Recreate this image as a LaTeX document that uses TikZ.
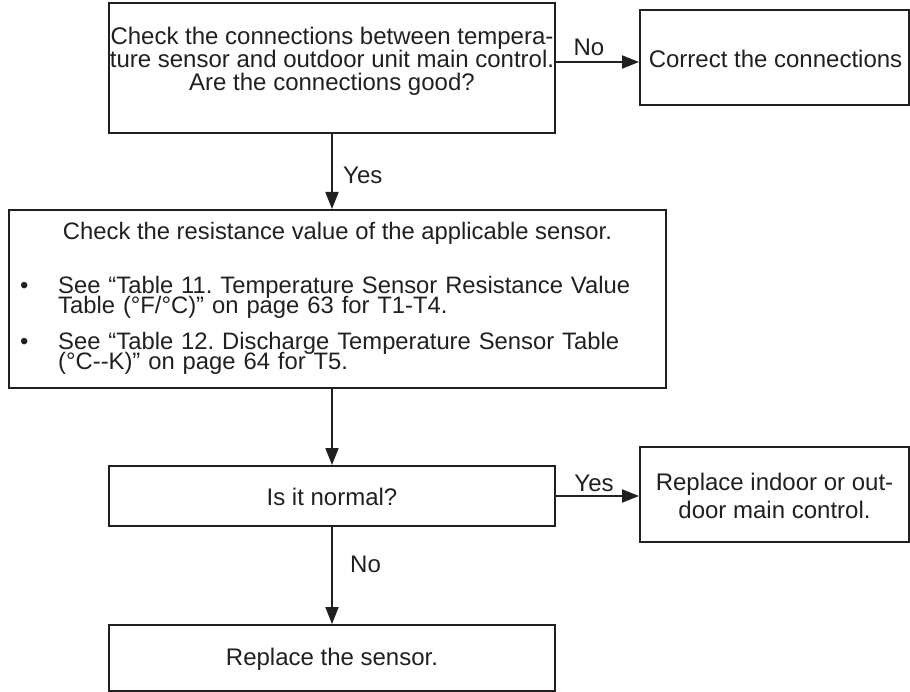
\documentclass[tikz,border=0pt]{standalone}
\usepackage{fontspec}
\setmainfont{Liberation Sans}
\usetikzlibrary{arrows.meta}
\definecolor{ink}{RGB}{35,31,32}
% let closely set lines keep their baseline distance
\newcommand\tightlines{\setlength{\lineskiplimit}{-100pt}\setlength{\lineskip}{0pt}}
\frenchspacing
\begin{document}
\begin{tikzpicture}[x=1pt,y=-1pt,
  box/.style={draw=ink, line width=2pt, inner sep=0pt, rectangle},
  big/.style={font=\fontsize{24}{23}\selectfont, text=ink, align=center, inner sep=0pt},
  wide/.style={font=\fontsize{24}{28}\selectfont, text=ink, align=center, inner sep=0pt},
  item/.style={font=\fontsize{23.8}{20}\selectfont\tightlines, text=ink, inner sep=0pt},
  flow/.style={draw=ink, line width=2pt, -{Triangle[length=17pt,width=13pt]}},
]
\useasboundingbox (0,0) rectangle (910,692);

% first check: wiring
\node[box, minimum width=446pt, minimum height=130pt] (chk) at (332,68) {};
\node[big] (chkt) at (332,61) {Check the connections between tempera-\\ture sensor and outdoor unit main control.\\Are the connections good?};

\node[box, minimum width=269pt, minimum height=95pt] (fix) at (774.5,57.5) {};
\node[big] (fixt) at (775.5,59) {Correct the connections};

% second check: sensor resistance
\node[box, minimum width=657pt, minimum height=178pt] (res) at (337.5,299) {};
\node[item, anchor=base] (rest) at (337.5,240) {Check the resistance value of the applicable sensor.};
\node[item, anchor=base west] (b1) at (20,294) {•};
\node[item, anchor=base west, text width=600pt, align=left] (b1t) at (58,294)
  {See “Table 11. Temperature Sensor Resistance Value\\Table (°F/°C)” on page 63 for T1-T4.};
\node[item, anchor=base west] (b2) at (20,350) {•};
\node[item, anchor=base west, text width=600pt, align=left] (b2t) at (58,350)
  {See “Table 12. Discharge Temperature Sensor Table\\(°C-{}-K)” on page 64 for T5.};

% decision and outcomes
\node[box, minimum width=446pt, minimum height=60pt] (norm) at (332,496) {};
\node[big] (normt) at (332,497) {Is it normal?};

\node[box, minimum width=269pt, minimum height=95pt] (ind) at (774.5,494.5) {};
\node[wide] (indt) at (774.5,496) {Replace indoor or out-\\door main control.};

\node[box, minimum width=446pt, minimum height=66pt] (sens) at (332,658) {};
\node[big] (senst) at (332,659) {Replace the sensor.};

% connectors
\coordinate (nofrom) at ([yshift=6pt]chk.east);
\draw[flow] (nofrom) -- (nofrom -| fix.west);
\draw[flow] (chk.south) -- (chk.south |- res.north);
\draw[flow] (chk.south |- res.south) -- (norm.north);
\draw[flow] (norm.east) -- (norm.east -| ind.west);
\draw[flow] (norm.south) -- (sens.north);

% branch labels
\node[big] (no1) at (589,47) {No};
\node[big, anchor=west] (yes1) at (343,175) {Yes};
\node[big] (yes2) at (594,483) {Yes};
\node[big, anchor=west] (no2) at (350,564) {No};
\end{tikzpicture}
\end{document}
